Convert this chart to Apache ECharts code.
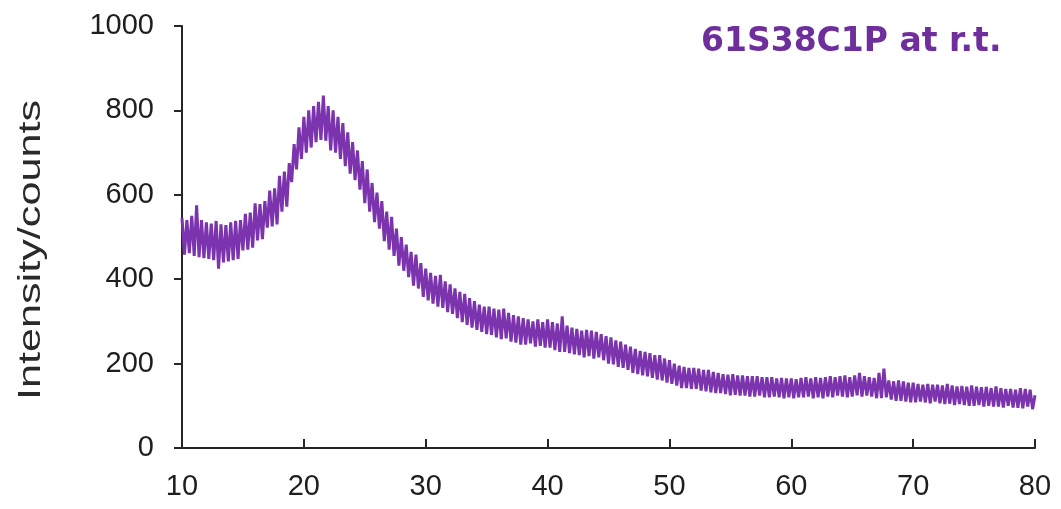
<!DOCTYPE html>
<html>
<head>
<meta charset="utf-8">
<script src="https://cdn.jsdelivr.net/npm/echarts@6/dist/echarts.min.js"></script>
<style>
  html, body { margin: 0; padding: 0; background: #fff; }
  #chart { width: 1061px; height: 509px; }
</style>
</head>
<body>
<div id="chart"></div>
<script>
// XRD scan, 2θ from 10° to 80°, one reading every 0.2°
const SCAN_START = 10;
const SCAN_STEP = 0.2;
const SAMPLE = '61S38C1P at r.t.';
const Y_NAME = 'Intensity/counts';

// 10.0° – 29.8° : shoulder + amorphous hump around 21.5°
const countsHump = [
  545, 458, 540, 462, 550,
  455, 575, 452, 540, 450,
  535, 448, 532, 445, 538,
  425, 530, 440, 528, 442,
  535, 445, 538, 448, 540,
  468, 555, 470, 558, 475,
  580, 492, 578, 495, 585,
  522, 610, 525, 615, 530,
  645, 560, 655, 572, 675,
  630, 720, 660, 760, 685,
  785, 700, 800, 712, 810,
  725, 820, 730, 835, 728,
  810, 705, 800, 700, 785,
  685, 770, 668, 748, 650,
  725, 635, 705, 612, 680,
  580, 660, 560, 628, 535,
  605, 520, 585, 490, 560,
  470, 548, 455, 520, 432,
  500, 420, 482, 405, 465,
  385, 458, 378, 438, 358,
];

// 30.0° – 49.8° : slow decay with a weak shoulder near 40°
const countsDecay = [
  425, 350, 415, 342, 408,
  335, 410, 332, 395, 322,
  388, 318, 378, 308, 370,
  298, 365, 292, 355, 285,
  348, 280, 340, 275, 335,
  270, 335, 268, 330, 262,
  328, 258, 330, 260, 320,
  252, 315, 250, 312, 245,
  308, 245, 305, 248, 300,
  240, 305, 242, 298, 238,
  305, 238, 298, 232, 295,
  228, 312, 228, 290, 225,
  285, 222, 282, 220, 278,
  215, 280, 218, 278, 212,
  275, 215, 270, 208, 265,
  200, 262, 198, 255, 192,
  252, 190, 245, 185, 240,
  178, 235, 175, 230, 172,
  228, 170, 225, 166, 220,
  162, 220, 160, 212, 155,
];

// 50.0° – 80.0° : flat background
const countsTail = [
  208, 152, 200, 148, 195,
  142, 192, 142, 190, 140,
  190, 140, 188, 136, 185,
  134, 185, 132, 180, 130,
  178, 130, 175, 128, 174,
  125, 175, 126, 172, 124,
  172, 124, 170, 122, 170,
  122, 170, 124, 168, 120,
  168, 120, 168, 122, 165,
  120, 166, 118, 165, 120,
  165, 118, 163, 120, 166,
  120, 168, 122, 165, 118,
  168, 120, 166, 118, 168,
  122, 170, 120, 168, 124,
  170, 122, 172, 120, 168,
  122, 172, 125, 178, 122,
  170, 124, 168, 122, 166,
  118, 178, 118, 188, 120,
  160, 115, 158, 112, 160,
  112, 158, 110, 155, 108,
  155, 108, 152, 110, 150,
  108, 152, 106, 150, 110,
  150, 106, 148, 104, 152,
  105, 148, 102, 146, 104,
  147, 102, 145, 100, 148,
  100, 145, 102, 144, 98,
  145, 100, 142, 98, 146,
  98, 142, 96, 140, 100,
  140, 96, 138, 95, 142,
  94, 140, 98, 138, 92,
  125,
];

const counts = [...countsHump, ...countsDecay, ...countsTail];
const scan = counts.map((c, i) => [+(SCAN_START + i * SCAN_STEP).toFixed(1), c]);

const INK = '#1e1e1e';
const AXIS = '#262626';
const PURPLE = '#7C33AE';
const TITLE = '#6E2E9C';

const chart = echarts.init(document.getElementById('chart'), null, { renderer: 'canvas' });
chart.setOption({
  animation: false,
  backgroundColor: '#fff',
  title: {
    text: SAMPLE,
    left: 701, top: 26, padding: 0,
    textStyle: { color: TITLE, fontSize: 33, fontWeight: 'bold', fontFamily: 'DejaVu Sans' },
  },
  grid: { left: 182, right: 26, top: 26, bottom: 61 },
  xAxis: {
    type: 'value', min: 10, max: 80, interval: 10,
    axisLine: { lineStyle: { color: AXIS, width: 2 } },
    axisTick: { inside: true, length: 9, lineStyle: { color: AXIS, width: 2 } },
    axisLabel: { color: INK, fontSize: 29, fontFamily: 'Liberation Sans', margin: 24 },
    splitLine: { show: false },
  },
  yAxis: {
    type: 'value', min: 0, max: 1000, interval: 200,
    axisLine: { show: true, lineStyle: { color: AXIS, width: 2 } },
    axisTick: { show: true, length: 8, lineStyle: { color: AXIS, width: 2 } },
    axisLabel: {
      color: INK, fontSize: 29, fontFamily: 'Liberation Sans', margin: 28,
      formatter: (v) => String(v),
    },
    splitLine: { show: false },
  },
  // axis title drawn by hand: the reference lettering is stretched along its length
  graphic: [{
    type: 'text',
    x: 31, y: 250,
    rotation: Math.PI / 2,
    scaleX: 1.35,
    style: {
      text: Y_NAME,
      font: '32px "Liberation Sans"',
      fill: '#2a2a2a',
      align: 'center', verticalAlign: 'middle',
    },
  }],
  series: [{
    type: 'line',
    data: scan,
    showSymbol: false,
    sampling: null,
    lineStyle: { color: PURPLE, width: 3 },
    itemStyle: { color: PURPLE },
  }],
});
</script>
</body>
</html>
